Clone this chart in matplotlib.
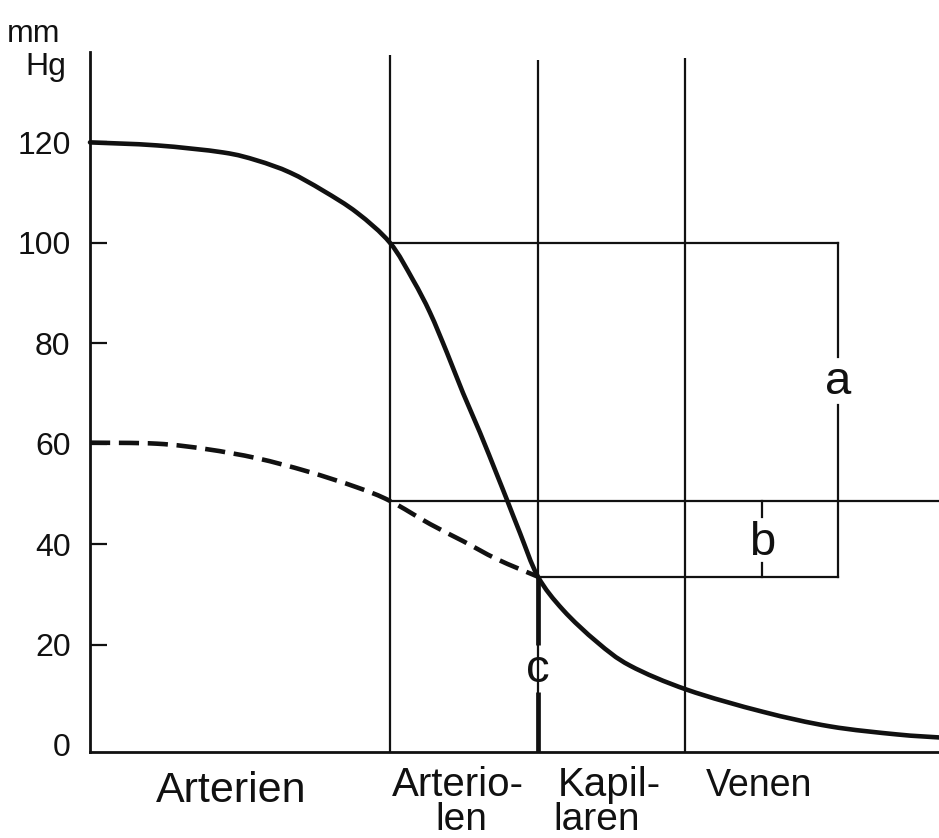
import matplotlib
matplotlib.use("Agg")
import matplotlib.pyplot as plt
import numpy as np
from matplotlib.path import Path
from matplotlib.patches import PathPatch

# ---- data (x in arbitrary path units, y in mm Hg) ----
solid_x = [0.00, 0.67, 1.33, 1.67, 2.00, 2.33, 2.67, 3.00, 3.23, 3.40, 3.57, 3.73,
           3.90, 4.07, 4.17, 4.30, 4.48, 4.73, 5.07, 5.40, 5.97, 6.73, 7.40, 8.07, 8.49]
solid_y = [120.0, 119.4, 118.0, 116.4, 114.0, 110.4, 106.0, 100.0, 92.6, 86.1, 78.1, 70.1,
           62.2, 53.8, 48.8, 42.2, 33.5, 26.9, 20.5, 15.8, 11.0, 6.6, 3.7, 2.1, 1.5]

dashed_x = [0.00, 0.67, 1.17, 1.67, 2.17, 2.67, 3.00, 3.40, 3.73, 4.07, 4.48]
dashed_y = [60.2, 60.0, 58.9, 57.1, 54.5, 51.3, 48.6, 44.0, 40.6, 37.0, 33.5]

boundary_x = [3.00, 4.48, 5.95]          # Arterien | Arteriolen | Kapillaren | Venen
boundary_top = [137.5, 136.5, 136.9]

level_a = 100.0      # top of bracket a
level_b = 48.6       # top of bracket b
level_c = 33.5       # common lower level
x_a = 7.48
x_b = 6.72
x_c = 4.48

yticks = [0, 20, 40, 60, 80, 100, 120]
ytick_labels = ["0", "20", "40", "60", "80", "100", "120"]

region_labels = ["Arterien", "Arterio-", "len", "Kapil-", "laren", "Venen"]
letter_labels = ["a", "b", "c"]
unit_labels = ["mm", "Hg"]

# ---- figure ----
W, H = 939, 838
fig = plt.figure(figsize=(W / 100, H / 100), dpi=100)
fig.patch.set_facecolor("white")
ax = fig.add_axes([90 / W, 86 / H, 1 - 90 / W, (752 - 52) / H])
ax.set_xlim(0, 8.49)
ax.set_ylim(-1.4, 138.0)

ink = "#111111"
font = ["Liberation Sans", "DejaVu Sans"]

for s in ["top", "right"]:
    ax.spines[s].set_visible(False)
for s in ["left", "bottom"]:
    ax.spines[s].set_linewidth(2.0)
    ax.spines[s].set_color(ink)

ax.set_xticks([])
ax.set_yticks(yticks)
ax.set_yticklabels(ytick_labels, fontfamily=font, fontsize=23, color=ink)
ax.tick_params(axis="y", direction="in", length=12, width=1.6, pad=14, colors=ink)
ax.yaxis.get_major_ticks()[0].tick1line.set_visible(False)


def smooth_patch(xs, ys, **kw):
    """Smooth rendering of the read points (Catmull-Rom as cubic Bezier)."""
    xs = np.asarray(xs, float)
    ys = np.asarray(ys, float)
    sy = 0.05  # equalise visual scale of the axes (px per unit)
    P = np.column_stack([xs, ys * sy])
    n = len(P)
    verts = [P[0]]
    codes = [Path.MOVETO]
    for i in range(n - 1):
        p0 = P[i - 1] if i > 0 else P[i]
        p1 = P[i]
        p2 = P[i + 1]
        p3 = P[i + 2] if i + 2 < n else P[i + 1]
        c1 = p1 + (p2 - p0) / 6.0
        c2 = p2 - (p3 - p1) / 6.0
        verts += [c1, c2, p2]
        codes += [Path.CURVE4] * 3
    V = np.array(verts)
    V[:, 1] /= sy
    patch = PathPatch(Path(V, codes), fill=False, transform=ax.transData, **kw)
    ax.add_patch(patch)
    return patch


# region boundaries
for bx, bt in zip(boundary_x, boundary_top):
    ax.plot([bx, bx], [-1.4, bt], color=ink, lw=1.6, solid_capstyle="butt")

# bracket lines
ax.plot([boundary_x[0], x_a], [level_a, level_a], color=ink, lw=1.6)
ax.plot([boundary_x[0], 8.49], [level_b, level_b], color=ink, lw=1.6)
ax.plot([x_c, x_a], [level_c, level_c], color=ink, lw=1.6)
# bracket a (with gap for label)
ax.plot([x_a, x_a], [level_a, 77.3], color=ink, lw=1.6)
ax.plot([x_a, x_a], [67.7, level_c], color=ink, lw=1.6)
# bracket b
ax.plot([x_b, x_b], [level_b, 45.4], color=ink, lw=1.6)
ax.plot([x_b, x_b], [36.3, level_c], color=ink, lw=1.6)
# bracket c (thick)
ax.plot([x_c, x_c], [level_c, 19.9], color=ink, lw=3.4, solid_capstyle="butt")
ax.plot([x_c, x_c], [10.6, -1.4], color=ink, lw=3.4, solid_capstyle="butt")

# curves
smooth_patch(solid_x, solid_y, edgecolor=ink, lw=3.3, joinstyle="round",
             capstyle="round", clip_on=False)
smooth_patch(dashed_x, dashed_y, edgecolor=ink, lw=3.3, capstyle="butt",
             linestyle=(0, (4.4, 1.9)))

# letters
ax.text(x_a, 72.3, letter_labels[0], ha="center", va="center",
        fontfamily=font, fontsize=34, color=ink)
ax.text(x_b, 40.3, letter_labels[1], ha="center", va="center",
        fontfamily=font, fontsize=34, color=ink)
ax.text(x_c, 14.9, letter_labels[2], ha="center", va="center",
        fontfamily=font, fontsize=34, color=ink)

# region labels (pixel placement)
label_pos = [(156, 802), (392, 796), (435, 830), (558, 796), (553, 830), (706, 796)]
label_size = [31, 29, 28, 29, 28, 27]
for txt, (px, py), fs in zip(region_labels, label_pos, label_size):
    fig.text(px / W, 1 - py / H, txt, ha="left", va="baseline",
             fontfamily=font, fontsize=fs, color=ink)

# unit label
fig.text(7 / W, 1 - 42 / H, unit_labels[0], ha="left", va="baseline",
         fontfamily=font, fontsize=23, color=ink)
fig.text(25 / W, 1 - 75 / H, unit_labels[1], ha="left", va="baseline",
         fontfamily=font, fontsize=23, color=ink)

fig.savefig("out.png", dpi=100, facecolor="white")
